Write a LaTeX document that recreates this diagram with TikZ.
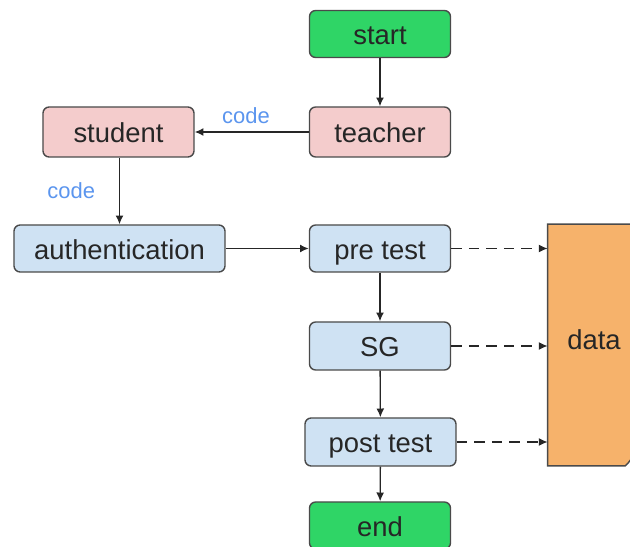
\documentclass[tikz,border=0pt]{standalone}
\usepackage{fontspec}
\setmainfont{Liberation Sans}
\usetikzlibrary{arrows.meta}

\definecolor{boxgreen}{HTML}{2FD566}
\definecolor{boxpink}{HTML}{F4CCCC}
\definecolor{boxblue}{HTML}{CFE2F3}
\definecolor{boxorange}{HTML}{F6B26B}
\definecolor{boxline}{HTML}{4A4A4A}
\definecolor{codeblue}{HTML}{5B95EE}

\begin{document}
\begin{tikzpicture}[
  box/.style={draw=boxline, line width=0.8pt, rounded corners=3.5pt,
    minimum width=2.82cm, minimum height=0.94cm, text=black!85,
    text height=12.5pt, text depth=0pt,
    font=\fontsize{15.6}{18}\selectfont},
  term/.style={box, fill=boxgreen},
  actor/.style={box, fill=boxpink, minimum height=1cm},
  stage/.style={box, fill=boxblue},
  flow/.style={-{Latex[length=5pt,width=4.5pt]}, line width=0.75pt, black!85},
  store/.style={flow, dash pattern=on 6pt off 4pt},
  codelbl/.style={text=codeblue, font=\fontsize{12.5}{15}\selectfont}
]
\useasboundingbox (0,0) rectangle (12.6,-10.94);

\node (start)   at (7.6,-0.68)  [term]  {start};
\node (teacher) at (7.6,-2.64)  [actor] {teacher};
\node (student) at (2.37,-2.64) [actor, minimum width=3.02cm] {student};

\node (auth)    at (2.39,-4.97) [stage, minimum width=4.22cm] {authentication};
\node (pre)     at (7.6,-4.97)  [stage] {pre test};
\node (sg)      at (7.6,-6.92)  [stage, minimum height=0.96cm] {SG};
\node (post)    at (7.61,-8.84) [stage, minimum width=3.02cm, minimum height=0.96cm] {post test};
\node (end)     at (7.6,-10.51) [term]  {end};

% data store, cut off by the right edge
\node (data) at (11.88,-6.9) [minimum width=1.84cm, minimum height=4.82cm] {};
\begin{scope}
  \clip (0,0) rectangle (12.6,-10.94);
  \draw[fill=boxorange, draw=boxline, line width=0.8pt]
    (data.north west) -- (data.north east) -- ([yshift=0.45cm]data.south east)
    .. controls ([xshift=-0.2cm,yshift=0.1cm]data.south east) .. ([xshift=-0.3cm]data.south east)
    -- (data.south west) -- cycle;
\end{scope}
\node at (11.88,-6.8) [font=\fontsize{15.6}{18}\selectfont, text=black!85] {data};

\draw[flow] (start) -- (teacher);
\draw[flow] (teacher) -- node[codelbl, above, pos=0.55, yshift=1pt] {code} (student);
\draw[flow] (student.south -| auth.north) -- node[codelbl, left=0.36cm] {code} (auth.north);
\draw[flow] (auth) -- (pre);
\draw[flow] (pre) -- (sg);
\draw[flow] (sg) -- (post);
\draw[flow] (post) -- (end);

\draw[store] (pre.east)  -- (pre.east -| data.west);
\draw[store] (sg.east)   -- (sg.east -| data.west);
\draw[store] (post.east) -- (post.east -| data.west);
\end{tikzpicture}
\end{document}
